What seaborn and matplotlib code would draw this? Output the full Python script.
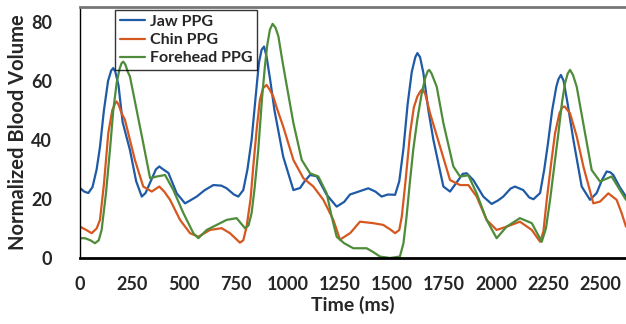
import numpy as np
import pandas as pd
import matplotlib
matplotlib.use("Agg")
import matplotlib.pyplot as plt
import seaborn as sns

# values (time in ms, normalized blood volume)
jaw_t = [0, 20, 40, 60, 80, 96, 115, 135, 150, 160, 170, 185, 205, 240, 270, 297, 315, 340, 365, 381,
         400, 425, 465, 505, 530, 561, 600, 641, 680, 705, 740, 761, 785,
         805, 825, 845, 860, 873, 885, 897, 915, 935, 977, 1026, 1058, 1080, 1106, 1138, 1186, 1234,
         1270, 1298, 1340, 1386, 1420, 1450, 1480, 1515,
         1535, 1555, 1575, 1595, 1612, 1622, 1635, 1651, 1675, 1699, 1747, 1779, 1819, 1840, 1859, 1891,
         1939, 1979, 2010, 2035, 2070, 2091, 2131, 2160,
         2180, 2212, 2232, 2250, 2270, 2290, 2300, 2312, 2325, 2345, 2372, 2412, 2452, 2484, 2510, 2532,
         2550, 2564, 2595, 2625]
jaw_v = [23.7, 22.5, 22, 24, 30, 37.6, 50, 60, 63.5, 64.3, 63, 58.5, 46, 36.6, 26, 20.8, 22, 26, 30, 31,
         30, 28.8, 21.9, 18.5, 19.5, 20.8, 23, 24.7, 24.5, 23.6, 21.5, 20.8, 23,
         30, 40, 55, 66, 70.5, 71.6, 68.2, 60, 50, 34.3, 23, 23.7, 26, 28.1, 27.7, 21.4, 17.4,
         19, 21.5, 22.5, 23.6, 22.5, 20.8, 21.5, 21.4,
         26, 37, 52, 63, 68, 69.4, 68, 62.6, 50, 40, 24.2, 22.5, 26.4, 28.5, 28.7, 26.4,
         20.8, 18.3, 19.5, 20.8, 23.5, 24.2, 23, 20.5,
         19.9, 22, 30, 38.9, 50, 58, 60.5, 62, 60, 52, 40, 24.2, 19.7, 22, 26.5, 29.3,
         29, 28.1, 24, 20.8]

chin_t = [0, 30, 56, 80, 96, 115, 136, 155, 170, 176, 185, 200, 216, 240, 264, 304, 345, 381, 405,
          433, 481, 529, 569, 625, 681, 721, 769, 785,
          801, 820, 833, 850, 865, 880, 897, 912, 929, 950, 977, 1026, 1074, 1122, 1170, 1218, 1250, 1300,
          1346, 1410, 1458, 1495, 1515, 1535,
          1547, 1565, 1587, 1605, 1622, 1637, 1647, 1660, 1683, 1731, 1779, 1827, 1867, 1907, 1955, 2003,
          2051, 2115, 2172, 2212, 2228,
          2244, 2265, 2284, 2305, 2318, 2330, 2356, 2388, 2420, 2468, 2500, 2540, 2580, 2605, 2625]
chin_v = [10.6, 9.5, 8.4, 10, 12.9, 25, 42.3, 50, 52.5, 53, 52, 49, 46.8, 40, 33.2, 24.2, 22.5, 24.2, 22.5,
          19.7, 12.9, 8.4, 7.2, 9.5, 10.1, 8.4, 5.2, 6,
          10.6, 20, 31, 44, 53.6, 57.5, 58.6, 57, 54.7, 50, 44.5, 33.2, 27, 24.2, 19.7, 12.9, 6.2, 8.5,
          12.3, 11.8, 11.2, 9.5, 8.4, 9.5,
          14, 26, 42.3, 51, 54.7, 56.5, 57.2, 55.5, 49, 37.7, 26.4, 24.7, 24.7, 20.8, 12.9, 9.5,
          10.6, 12.3, 9.5, 5.5, 9,
          19.7, 32, 42.3, 49, 51, 51.3, 49, 41.2, 31, 18.5, 19.1, 21.9, 19.7, 15, 10.6]

fore_t = [0, 24, 50, 72, 90, 104, 125, 144, 160, 176, 190, 200, 208, 218, 230, 240, 272, 304, 337, 369,
          409, 449, 497, 545, 569, 609, 657, 705, 753, 793, 810,
          825, 840, 857, 875, 889, 900, 913, 926, 940, 954, 970, 986, 1026, 1066, 1106, 1146, 1186, 1210,
          1234, 1270, 1314, 1378, 1410, 1442, 1490, 1538, 1555,
          1570, 1585, 1602, 1622, 1643, 1660, 1672, 1679, 1690, 1715, 1747, 1795, 1827,
          1867, 1907, 1955, 2003, 2051, 2115, 2172, 2220, 2240,
          2260, 2280, 2300, 2318, 2332, 2345, 2356, 2370, 2388, 2428, 2460,
          2500, 2556, 2596, 2625]
fore_v = [6.7, 6.7, 6, 5, 6, 9.5, 22, 36.6, 50, 59.2, 64, 66, 66.5, 65.5, 63, 61.5, 50.2, 38.9, 27, 27.6,
          28.1, 23, 15.2, 8.4, 6.7, 9.5, 11.2, 12.9, 13.5, 10.1, 11,
          15.2, 24, 36.6, 54, 64.9, 72, 77.3, 79.3, 78, 75, 68, 61.5, 45.7, 33.2, 28.7, 27.6, 21.9, 14,
          7.2, 5, 3.3, 3.3, 2, 0.5, 0, 0.5, 5,
          14, 25, 36.6, 47, 55.8, 61, 63.3, 63.7, 62.5, 58, 45.7, 31, 27.6,
          28, 21.9, 12.9, 6.7, 10.6, 13.5, 11.8, 5.5, 10,
          19.7, 31, 42.3, 53, 59.2, 62.5, 63.7, 62, 58, 42.3, 29.8,
          25.9, 27.6, 23, 19.7]

series_names = ["Jaw PPG", "Chin PPG", "Forehead PPG"]
colors = ["#1f5aa6", "#d6571f", "#4f8c3a"]

df = pd.concat([
    pd.DataFrame({"t": jaw_t, "v": jaw_v, "s": series_names[0]}),
    pd.DataFrame({"t": chin_t, "v": chin_v, "s": series_names[1]}),
    pd.DataFrame({"t": fore_t, "v": fore_v, "s": series_names[2]}),
])

sns.set_style("white")
plt.rcParams["font.family"] = ["Lato", "DejaVu Sans"]
plt.rcParams["font.weight"] = "bold"

fig = plt.figure(figsize=(6.26, 3.24), dpi=100)
ax = fig.add_axes([80 / 626, 1 - 258 / 324, 1 - 80 / 626, 251 / 324])

sns.lineplot(data=df, x="t", y="v", hue="s", palette=colors, linewidth=1.6,
             estimator=None, sort=False, ax=ax)

ax.set_xlim(0, 2625)
ax.set_ylim(0, 85)
ax.set_xticks(np.arange(0, 2501, 250))
ax.set_yticks(np.arange(0, 81, 20))
ax.tick_params(axis="x", direction="in", length=4, width=1, color="#888888", pad=13, labelsize=13)
ax.tick_params(axis="y", direction="in", length=4, width=1, color="black", pad=20, labelsize=13)
for lab in ax.get_xticklabels() + ax.get_yticklabels():
    lab.set_fontweight("bold")

ax.set_xlabel("Time (ms)", fontsize=14, fontweight="bold", labelpad=2)
ax.set_ylabel("Normalized Blood Volume", fontsize=14.5, fontweight="bold", labelpad=2)

ax.spines["bottom"].set_color("black")
ax.spines["bottom"].set_linewidth(2)
ax.spines["left"].set_color("black")
ax.spines["left"].set_linewidth(1)
ax.spines["top"].set_color("#777777")
ax.spines["top"].set_linewidth(2)
ax.spines["right"].set_visible(False)

# legend box is see-through in the original: curves show inside it
leg = ax.legend(loc="upper left", bbox_to_anchor=(0.064, 0.988), frameon=True, fancybox=False,
                edgecolor="black", facecolor="none", framealpha=None, fontsize=11.5,
                handlelength=1.6, handletextpad=0.3,
                borderpad=0.3, labelspacing=0.25, borderaxespad=0)
leg.get_frame().set_linewidth(1)
for txt in leg.get_texts():
    txt.set_fontweight("bold")

fig.savefig("out.png", dpi=100)
